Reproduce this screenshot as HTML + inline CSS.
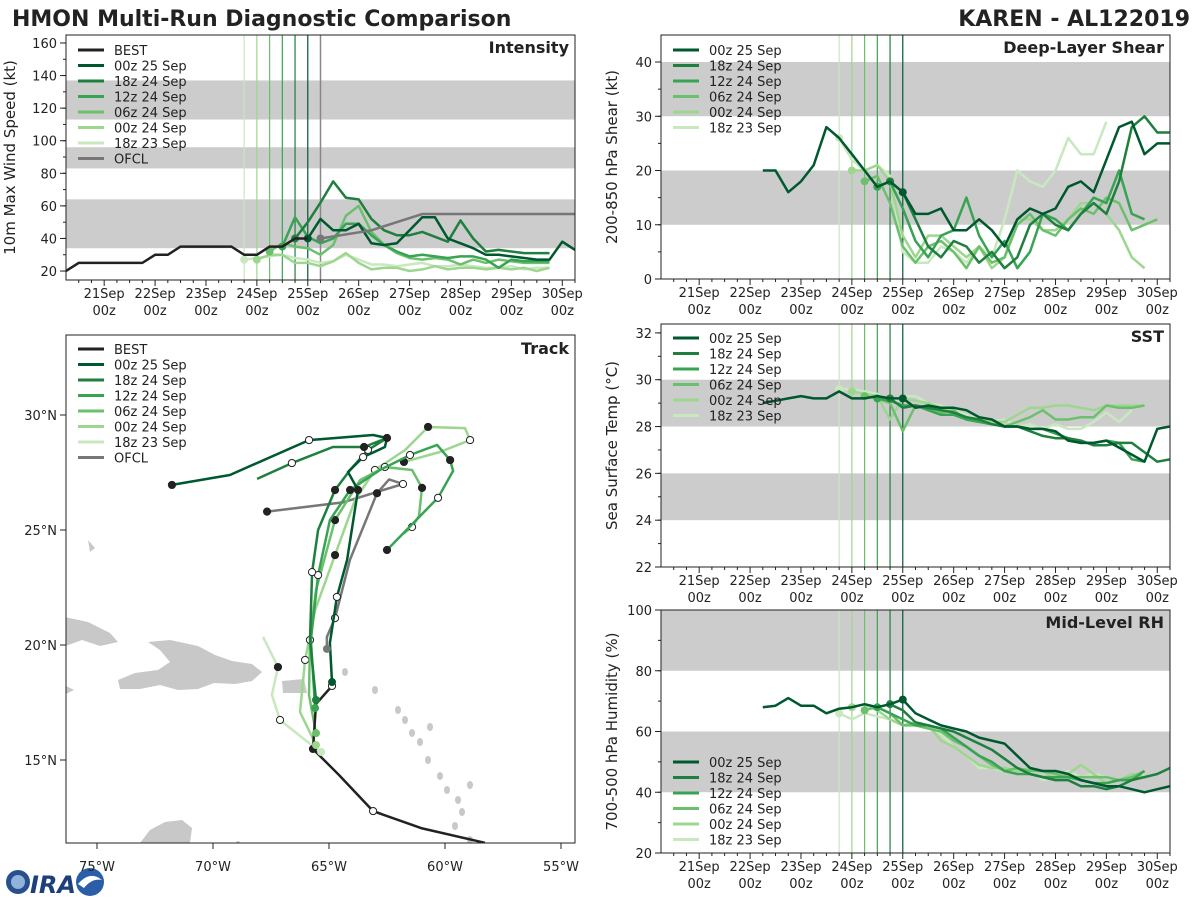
<!DOCTYPE html>
<html><head><meta charset="utf-8"><style>
html,body{margin:0;padding:0;background:#fff;}
svg{display:block;font-family:"DejaVu Sans","Liberation Sans",sans-serif;}
</style></head><body>
<svg id="c" width="1200" height="900" viewBox="0 0 1200 900" xmlns="http://www.w3.org/2000/svg">
<text x="12" y="26" font-size="22" font-weight="bold" fill="#222">HMON Multi-Run Diagnostic Comparison</text>
<text x="1190" y="26" font-size="22" font-weight="bold" fill="#222" text-anchor="end">KAREN - AL122019</text>
<g>
<circle cx="18" cy="882" r="12" fill="#2a4f8f"/><circle cx="18" cy="882" r="7" fill="#8fb3d9"/>
<text x="30" y="893" font-size="24" font-weight="bold" fill="#1d3f7a" font-style="italic">IRA</text>
<circle cx="90" cy="882" r="14" fill="#2a5fa8"/><path d="M78 884 Q90 870 102 880 Q92 878 84 888 Z" fill="#fff"/>
</g>
</svg>
<script>
const COLORS=['#00582f','#1e7f3e','#38a352','#6cc06d','#9dd68e','#c8e8bf'];
const RUNS=['00z 25 Sep','18z 24 Sep','12z 24 Sep','06z 24 Sep','00z 24 Sep','18z 23 Sep'];
const RUN_T=[25.0,24.75,24.5,24.25,24.0,23.75];
// Intensity (kt), 6-hourly
const bestT0=20.25;
const bestVmax=[20,25,25,25,25,25,25,30,30,35,35,35,35,35,30,30,35,35,40,40];
const ofclT=[25.25,26.25,27.25,28.25,29.25,30.25];
const ofclVmax=[40,45,55,55,55,55];
const vmax00z25=[40,52,45,45,49,37,36,37,45,53,53,40,37,34,30,30,29,28,27,27,38,33];
const vmax18z24=[40,50,62,75,65,64,52,45,42,42,44,41,38,51,40,32,33,32,31,31,31];
const vmax12z24=[35,53,41,37,40,49,49,42,36,32,29,30,29,28,29,29,27,22,27,26,26,26];
const vmax06z24=[32,37,35,34,30,36,54,60,44,36,31,28,27,28,27,24,27,25,27,26,25,25,25];
const vmax00z24=[27,30,30,25,25,23,26,31,25,21,22,22,20,21,23,21,22,22,21,22,21,22,20,22];
const vmax18z23=[27,28,29,30,28,27,25,26,30,27,24,24,23,24,25,23,23,24,23,22,22,23,21,22,22];
// Shear (kt)
const shearStart=[22.25,24.75,24.5,24.25,24.0,23.75];
const shear00z25=[20,20,16,18,21,28,26,23,20,17,18,16,12,12,13,9,9,11,9,6,11,13,12,13,17,18,16,22,28,29,23,25,25];
const shear18z24=[18,16,11,6,4,7,6,3,5,2,4,10,12,10,9,12,14,12,18,28,30,27,27];
const shear12z24=[17,18,13,7,4,8,9,15,8,4,7,2,5,12,11,9,12,15,14,20,12,11];
const shear06z24=[18,19,14,6,3,6,7,5,2,6,3,4,10,12,9,8,11,13,12,15,14,9,10,11];
const shear00z24=[20,20,21,18,8,4,8,8,6,4,6,2,4,11,11,9,9,11,14,14,12,9,4,2];
const shear18z23=[26,22,20,21,19,5,3,3,6,5,3,6,4,11,20,18,17,20,26,23,23,29];
// SST (C)
const sstStart=[22.25,24.75,24.5,24.25,24.0,23.75];
const sst00z25=[29.0,29.1,29.2,29.3,29.2,29.2,29.5,29.2,29.2,29.3,29.2,29.2,28.8,28.9,28.8,28.8,28.7,28.4,28.3,28.0,28.0,27.9,27.9,27.8,27.4,27.3,27.3,27.4,27.1,26.8,26.5,27.9,28.0];
const sst18z24=[29.2,28.8,28.9,28.8,28.7,28.6,28.4,28.3,28.1,28.0,28.0,27.8,27.6,27.5,27.5,27.4,27.2,27.2,27.3,27.3,26.9,26.5,26.6,26.9];
const sst12z24=[29.2,29.1,28.9,28.9,28.7,28.5,28.5,28.3,28.2,28.1,28.0,28.0,27.9,27.9,27.7,27.5,27.3,27.3,27.4,27.3,26.6,26.5];
const sst06z24=[29.3,29.2,29.0,27.8,28.9,28.8,28.6,28.7,28.3,28.2,28.1,28.0,28.2,28.4,28.7,28.3,28.3,28.4,28.4,28.9,28.8,28.8,28.9];
const sst00z24=[29.5,29.4,29.3,28.3,29.2,29.1,29.0,28.8,28.6,28.4,28.3,28.2,28.2,28.5,28.8,28.8,28.9,28.9,28.8,28.7,28.9,28.9,28.9,28.9];
const sst18z23=[29.6,29.6,29.5,29.4,29.0,29.3,29.3,29.0,28.9,28.7,28.5,28.3,28.2,28.3,28.0,28.1,27.9,28.1,27.9,27.9,28.2,28.6,28.2,28.7];
// RH (%)
const rhStart=[22.25,24.75,24.5,24.25,24.0,23.75];
const rh00z25=[68,68.5,71,68.5,68.5,66,67.5,68,69,68,69,70.5,66,64,62,61,60,58,57,56,52,48,47,47,46,44,43,42,42,41,40,41,42,45,47,47,50];
const rh18z24=[69,67,63,62,61,60,58,56,54,51,48,46,45,44,44,42,42,41,42,44,45,46,48];
const rh12z24=[68,66,64,62,62,61,58,55,52,50,47,46,46,45,45,45,44,43,43,44,44,47];
const rh06z24=[67,68,66,62,62,61,60,57,55,52,49,47,48,47,47,46,45,45,45,45,44,45,47];
const rh00z24=[68,69,67,64,62,63,62,57,55,52,49,48,48,47,48,47,44,46,49,46,43,44,46,45];
const rh18z23=[66,64,66,65,64,62,63,62,59,55,52,48,48,47,48,47,44,45,47,45,46,45,44,45,46];
// Tracks (lon, lat)
const bestLon=[-58.28,-61.03,-63.1,-64.57,-65.69,-65.56,-64.87];
const bestLat=[11.4,12.04,12.78,14.35,15.48,17.43,18.22];
const ofclLon=[-65.09,-65.09,-64.74,-64.1,-62.93,-62.41,-61.81,-64.4,-67.67];
const ofclLat=[19.83,20.35,21.17,23.7,26.6,27.2,27.0,26.2,25.8];
const trkLon=[
 [-64.87,-64.96,-64.66,-64.22,-63.75,-64.18,-63.53,-62.59,-62.5,-63.1,-65.86,-69.27,-71.77],
 [-65.56,-65.82,-65.73,-65.47,-64.74,-64.09,-63.32,-62.5,-63.49,-64.83,-66.6,-68.1],
 [-65.6,-65.78,-65.47,-64.96,-64.09,-62.8,-61.51,-60.34,-59.78,-59.65,-60.3,-61.08,-62.5],
 [-65.56,-65.86,-65.82,-65.56,-64.74,-63.66,-62.59,-61.42,-60.99,-61.12,-61.42,-61.81],
 [-65.56,-66.25,-66.03,-65.6,-64.74,-63.88,-63.02,-61.72,-60.73,-59.14,-58.92,-60.22,-61.77],
 [-65.34,-66.03,-67.11,-67.46,-67.2,-67.84]];
const trkLat=[
 [18.39,20.09,22.09,23.7,26.74,27.52,28.17,28.61,29.0,29.13,28.91,27.39,26.96],
 [17.61,20.22,23.17,25.0,26.74,27.61,28.48,29.0,28.61,28.61,27.91,27.22],
 [17.26,20.22,23.04,25.43,26.74,27.61,28.26,28.7,28.04,27.57,26.4,25.6,24.13],
 [16.17,17.83,20.22,22.39,25.43,27.17,27.74,27.61,26.83,25.61,25.13,24.83],
 [15.65,17.09,19.35,21.52,23.91,26.3,27.61,28.48,29.48,29.43,28.91,28.39,27.96],
 [15.35,15.87,16.74,17.83,19.04,20.35]];

const NS='http://www.w3.org/2000/svg';
const svg=document.getElementById('c');
function mk(tag,attrs,parent){const e=document.createElementNS(NS,tag);for(const k in attrs)e.setAttribute(k,attrs[k]);(parent||svg).appendChild(e);return e;}
function txt(x,y,s,attrs,parent){const e=mk('text',Object.assign({x:x,y:y,'font-size':13,fill:'#222'},attrs||{}),parent);e.textContent=s;return e;}
function pts(xs,ys){return xs.map((x,i)=>x.toFixed(1)+','+ys[i].toFixed(1)).join(' ');}
const TX=t=>(t-20.25)*50.9;
let clipN=0;

function timePanel(cfg){
 const g=mk('g',{});
 
 
 const {x0,x1,y0,y1,vmin,vmax}=cfg;
 const X=t=>x0+TX(t);
 const Y=v=>y1-(v-vmin)/(vmax-vmin)*(y1-y0);
 const cid='pc'+(clipN++);
 const cp=mk('clipPath',{id:cid},g);mk('rect',{x:x0,y:y0,width:x1-x0,height:y1-y0},cp);
 const inner=mk('g',{'clip-path':'url(#'+cid+')'},g);
 cfg.bands.forEach(b=>{const r=mk('rect',{x:x0,y:Y(b[1]),width:x1-x0,height:Y(b[0])-Y(b[1]),fill:'#cccccc'},inner);
  });
 RUN_T.forEach((t,i)=>{const l=mk('line',{x1:X(t),x2:X(t),y1:y0,y2:y1,stroke:COLORS[i],'stroke-width':1.2},inner);
  });
 if(cfg.ofclLine){const l=mk('line',{x1:X(25.25),x2:X(25.25),y1:y0,y2:y1,stroke:'#888','stroke-width':1.5},inner);
  }
 for(let i=5;i>=0;i--){const arr=cfg.series[i];const st=cfg.starts[i];
  const xs=arr.map((v,k)=>X(st+k*0.25)),ys=arr.map(v=>Y(v));
  const p=mk('polyline',{points:pts(xs,ys),fill:'none',stroke:COLORS[i],'stroke-width':2.5,'stroke-linejoin':'round'},inner);
  
  if(cfg.dots){const k=Math.round((RUN_T[i]-st)/0.25);if(k>=0&&k<arr.length){const c=mk('circle',{cx:X(RUN_T[i]),cy:Y(arr[k]),r:4,fill:COLORS[i]},inner);
   }}
 }
 if(cfg.extra)cfg.extra(inner,X,Y);
 const fr=mk('rect',{x:x0,y:y0,width:x1-x0,height:y1-y0,fill:'none',stroke:'#222','stroke-width':1},g);
 
 for(let t=20.5;t<=30.25;t+=0.25){const x=X(t);const major=Math.abs(t-Math.round(t))<1e-6;
  mk('line',{x1:x,x2:x,y1:y1,y2:y1+(major?6:3),stroke:'#222'},g);
  if(major){const d=Math.round(t);
   const a=txt(x,y1+18,d+'Sep',{'text-anchor':'middle'},g);
   const b=txt(x,y1+35,'00z',{'text-anchor':'middle'},g);}}
 cfg.yticks.forEach(v=>{const y=Y(v);mk('line',{x1:x0-6,x2:x0,y1:y,y2:y,stroke:'#222'},g);
  const a=txt(x0-9,y+5,String(v),{'text-anchor':'end'},g);});
 for(let v=cfg.yticks[0];v<=vmax;v+=cfg.minor){const y=Y(v);if(y>=y0&&y<=y1)mk('line',{x1:x0-3,x2:x0,y1:y,y2:y,stroke:'#222'},g);}
 const yl=txt(0,0,cfg.ylabel,{'font-size':15,'text-anchor':'middle',transform:`translate(${cfg.ylx},${(y0+y1)/2}) rotate(-90)`},g);
 
 const tt=txt(x1-6,y0+18,cfg.title,{'font-size':16,'font-weight':'bold','text-anchor':'end'},g);
 
 legend(g,x0+12,cfg.legY,cfg.legItems);
}
function legend(g,x,y,items){
 const lg=mk('g',{},g);
 items.forEach((it,i)=>{const yy=y+i*15.5;
  mk('line',{x1:x,x2:x+26,y1:yy,y2:yy,stroke:it[1],'stroke-width':3},lg);
  const t=txt(x+36,yy+5,it[0],{},lg);});
}
const runItems=RUNS.map((r,i)=>[r,COLORS[i]]);

timePanel({name:'intensity-panel',x0:66,x1:575,y0:35,y1:280,vmin:14.5,vmax:164.9,bands:[[34,64],[83,96],[113,137]],
 series:[vmax00z25,vmax18z24,vmax12z24,vmax06z24,vmax00z24,vmax18z23],starts:RUN_T,dots:true,ofclLine:true,
 yticks:[20,40,60,80,100,120,140,160],minor:10,ylabel:'10m Max Wind Speed (kt)',ylx:15,title:'Intensity',legY:50,
 legItems:[['BEST','#222']].concat(runItems,[['OFCL','#777']]),
 extra:(g,X,Y)=>{
  const bx=bestVmax.map((v,k)=>X(bestT0+k*0.25)),by=bestVmax.map(Y);
  const b=mk('polyline',{points:pts(bx,by),fill:'none',stroke:'#222','stroke-width':2.5},g);
  
  const o=mk('polyline',{points:pts(ofclT.map(X),ofclVmax.map(Y)),fill:'none',stroke:'#777','stroke-width':2.5},g);
  
  const c=mk('circle',{cx:X(ofclT[0]),cy:Y(ofclVmax[0]),r:4,fill:'#777'},g);
  
 }});
timePanel({name:'shear-panel',x0:661,x1:1170,y0:35,y1:279,vmin:0,vmax:44.98,bands:[[10,20],[30,40]],
 series:[shear00z25,shear18z24,shear12z24,shear06z24,shear00z24,shear18z23],starts:shearStart,dots:true,
 yticks:[0,10,20,30,40],minor:5,ylabel:'200-850 hPa Shear (kt)',ylx:617,title:'Deep-Layer Shear',legY:50,legItems:runItems});
timePanel({name:'sst-panel',x0:661,x1:1170,y0:324,y1:567,vmin:22,vmax:32.38,bands:[[24,26],[28,30]],
 series:[sst00z25,sst18z24,sst12z24,sst06z24,sst00z24,sst18z23],starts:sstStart,dots:true,
 yticks:[22,24,26,28,30,32],minor:1,ylabel:'Sea Surface Temp (°C)',ylx:617,title:'SST',legY:338,legItems:runItems});
timePanel({name:'rh-panel',x0:661,x1:1170,y0:610,y1:853,vmin:20,vmax:100,bands:[[40,60],[80,100]],
 series:[rh00z25,rh18z24,rh12z24,rh06z24,rh00z24,rh18z23],starts:rhStart,dots:true,
 yticks:[20,40,60,80,100],minor:10,ylabel:'700-500 hPa Humidity (%)',ylx:617,title:'Mid-Level RH',legY:762,legItems:runItems});

(function(){
 const g=mk('g',{});
 const x0=66,x1=575,y0=335,y1=843;
 const LX=lon=>97+(lon+75)*23.2, LY=lat=>415-(lat-30)*23;
 const clip=mk('clipPath',{id:'tc'},g);mk('rect',{x:x0,y:y0,width:x1-x0,height:y1-y0},clip);
 const inner=mk('g',{'clip-path':'url(#tc)'},g);
 const land=[
  'M118,680 L135,673 L158,670 L170,662 L160,650 L148,642 L170,640 L198,646 L215,655 L232,661 L252,664 L262,672 L252,681 L235,684 L214,683 L198,689 L178,690 L160,685 L140,689 L120,689 Z',
  'M60,616 L88,622 L110,633 L118,642 L100,646 L82,640 L60,648 Z',
  'M282,681 L304,679 L307,693 L283,693 Z',
  'M140,843 L150,830 L165,822 L182,820 L192,828 L190,843 Z',
  'M66,686 L74,690 L66,694 Z','M88,540 L95,548 L90,552 Z'];
 land.forEach(d=>{const p=mk('path',{d:d,fill:'#c8c8c8'},inner);});
 [[420,742],[428,760],[440,776],[447,790],[458,800],[462,812],[455,826],[470,840],[412,733],[405,720],[470,785],[375,690],[345,672],[398,710],[430,727],[238,845],[250,848]].forEach(p=>{
  const e=mk('ellipse',{cx:p[0],cy:p[1],rx:3,ry:4,fill:'#c8c8c8'},inner);});
 function track(lons,lats,color,name){
  const p=mk('polyline',{points:pts(lons.map(LX),lats.map(LY)),fill:'none',stroke:color,'stroke-width':2.5,'stroke-linejoin':'round'},inner);
  
  lons.forEach((lo,k)=>{if(k===0)return;if(k%2===0){const c=mk('circle',{cx:LX(lo),cy:LY(lats[k]),r:3.6,fill:(k%4===0)?'#222':'#fff',stroke:'#222','stroke-width':1},inner);
   }});
 }
 track(ofclLon,ofclLat,'#777','ofcl-track');
 for(let i=5;i>=0;i--)track(trkLon[i],trkLat[i],COLORS[i],'track-'+RUNS[i].replace(/ /g,'-').toLowerCase());
 track(bestLon,bestLat,'#222','best-track');
 for(let i=5;i>=0;i--){const c=mk('circle',{cx:LX(trkLon[i][0]),cy:LY(trkLat[i][0]),r:4,fill:COLORS[i]},inner);
  }
 const om=mk('circle',{cx:LX(ofclLon[0]),cy:LY(ofclLat[0]),r:4,fill:'#777'},inner);
 const fr=mk('rect',{x:x0,y:y0,width:x1-x0,height:y1-y0,fill:'none',stroke:'#222'},g);
 [-75,-70,-65,-60,-55].forEach(lo=>{const x=LX(lo);mk('line',{x1:x,x2:x,y1:y1,y2:y1+6,stroke:'#222'},g);
  const t=txt(x,y1+28,Math.abs(lo)+'°W',{'text-anchor':'middle'},g);});
 [15,20,25,30].forEach(la=>{const y=LY(la);mk('line',{x1:x0-6,x2:x0,y1:y,y2:y,stroke:'#222'},g);
  const t=txt(x0-9,y+5,la+'°N',{'text-anchor':'end'},g);});
 const tt=txt(x1-6,y0+19,'Track',{'font-size':16,'font-weight':'bold','text-anchor':'end'},g);
 legend(g,78,349,[['BEST','#222']].concat(runItems,[['OFCL','#777']]));
})();
</script>
</body></html>
